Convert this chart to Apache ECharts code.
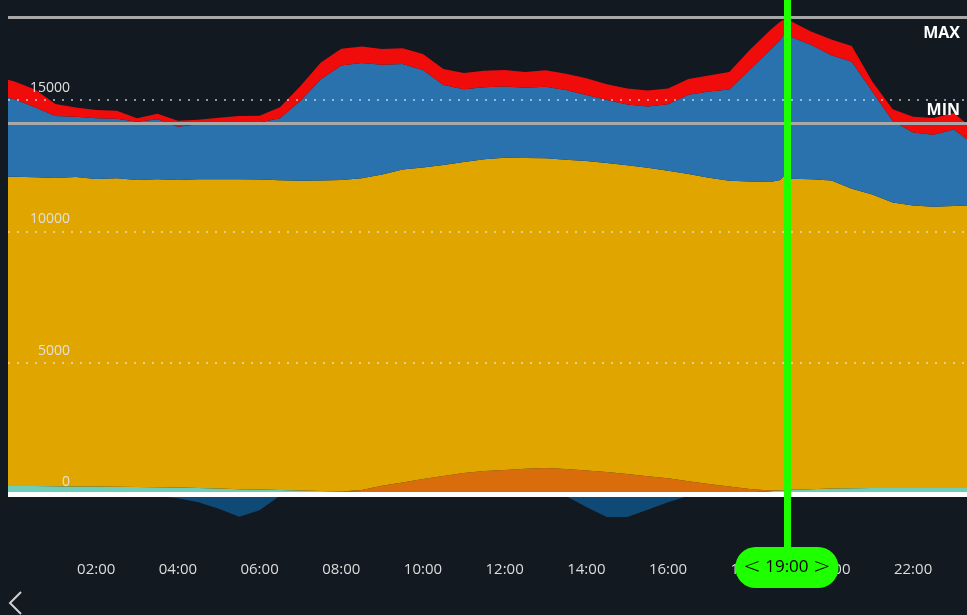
<!DOCTYPE html>
<html>
<head>
<meta charset="utf-8">
<script src="https://cdn.jsdelivr.net/npm/echarts@6/dist/echarts.min.js"></script>
<style>
html, body { margin: 0; padding: 0; background: #131920; }
#chart { width: 967px; height: 615px; }
</style>
</head>
<body>
<div id="chart"></div>
<script>
// time of day in hours
const hours = [-0.5, 0, 0.5, 1, 1.5, 2, 2.5, 3, 3.5, 4, 4.5, 5, 5.5, 6, 6.5, 7, 7.5, 8, 8.5, 9, 9.5, 10,
  10.5, 11, 11.5, 12, 12.5, 13, 13.5, 14, 14.5, 15, 15.5, 16, 16.5, 17, 17.5, 18, 18.5, 18.75, 18.85,
  19, 19.5, 20, 20.5, 21, 21.5, 22, 22.5, 23, 23.5]

const exportVals = [0, 0, 0, 0, 0, 0, 0, 0, -60, -150, -300, -550, -850, -600, -50, 0, 0, 0, 0, 0, 0, 0,
  0, 0, 0, 0, 0, 0, -60, -480, -860, -860, -580, -300, -50, 0, 0, 0, 0, 0, 0,
  0, 0, 0, 0, 0, 0, 0, 0, 0, 0]
const tealVals = [330, 320, 320, 310, 300, 300, 290, 280, 270, 260, 240, 220, 200, 190, 170, 150, 130, 110, 90, 70, 50, 50,
  50, 50, 50, 50, 50, 50, 50, 50, 50, 50, 50, 50, 50, 50, 60, 80, 120, 150, 160,
  180, 200, 220, 230, 240, 240, 240, 240, 240, 240]
const solarVals = [0, 0, 0, 0, 0, 0, 0, 0, 0, 0, 0, 0, 0, 0, 0, 0, 0, 0, 80, 260, 400, 540,
  650, 760, 840, 880, 930, 950, 920, 860, 800, 730, 640, 560, 450, 350, 240, 130, 30, 0, 0,
  0, 0, 0, 0, 0, 0, 0, 0, 0, 0]
const baseVals = [11750, 11760, 11740, 11720, 11770, 11690, 11730, 11680, 11715, 11700, 11740, 11760, 11780, 11785, 11780, 11780, 11810, 11850, 11850, 11830, 11900, 11840,
  11830, 11830, 11850, 11870, 11810, 11780, 11760, 11770, 11750, 11740, 11730, 11700, 11680, 11640, 11630, 11690, 11730, 11810, 11980,
  11820, 11780, 11720, 11390, 11160, 10860, 10750, 10700, 10730, 10760]
const gridVals = [3120, 2945, 2660, 2360, 2295, 2310, 2260, 2215, 2285, 2025, 2095, 2105, 2120, 2165, 2350, 3040, 3850, 4350, 4380, 4180, 4020, 3710,
  3040, 2770, 2740, 2710, 2670, 2720, 2650, 2510, 2400, 2310, 2330, 2530, 3020, 3280, 3470, 4250, 5020, 5320, 5420,
  5400, 5120, 4760, 4830, 3920, 3100, 2770, 2740, 2910, 2300]
const peakVals = [700, 680, 680, 460, 350, 320, 310, 130, 200, 225, 170, 240, 290, 260, 420, 560, 630, 640, 630, 600, 600, 610,
  610, 610, 630, 630, 600, 630, 620, 630, 600, 600, 610, 590, 600, 610, 660, 750, 750, 700, 510,
  600, 500, 600, 600, 380, 450, 600, 630, 620, 550]

const yTicks = [0, 5000, 10000, 15000]
const xTicks = [2, 4, 6, 8, 10, 12, 14, 16, 18, 20, 22]
const maxLimit = 18150
const minLimit = 14100
const cursorHour = 18.91
const cursorLabel = '19:00'

const pad = n => (n < 10 ? '0' : '') + n

// value first so the stack runs on y, x comes from encode
const makeSeries = (name, vals, color) => ({
  name: name,
  type: 'line',
  stack: 'total',
  symbol: 'none',
  silent: true,
  encode: { x: 1, y: 0 },
  lineStyle: { width: 0 },
  areaStyle: { color: color, opacity: 1 },
  data: hours.map((h, i) => [vals[i], h])
})

const chart = echarts.init(document.getElementById('chart'))

const limitLabel = {
  show: true,
  color: '#fff',
  fontWeight: 'bold',
  fontSize: 16,
  fontFamily: 'Open Sans'
}

const peakSeries = makeSeries('peak', peakVals, '#f10c0c')
peakSeries.markLine = {
  symbol: 'none',
  silent: true,
  z: 10,
  animation: false,
  data: [
    {
      yAxis: maxLimit,
      lineStyle: { color: '#a8a8a8', width: 3, type: 'solid' },
      label: Object.assign({ formatter: 'MAX', position: 'insideEndBottom', distance: [7, 8] }, limitLabel)
    },
    {
      yAxis: minLimit,
      lineStyle: { color: '#a8a8a8', width: 3, type: 'solid' },
      label: Object.assign({ formatter: 'MIN', position: 'insideEndTop', distance: [7, 5] }, limitLabel)
    },
    {
      yAxis: 0,
      lineStyle: { color: '#ffffff', width: 5, type: 'solid' },
      label: { show: false }
    },
    {
      xAxis: cursorHour,
      lineStyle: { color: '#1eff00', width: 7, type: 'solid' },
      label: {
        show: true,
        position: 'start',
        distance: 0,
        formatter: '{a|<} ' + cursorLabel + ' {a|>}',
        backgroundColor: '#1eff00',
        color: '#000',
        fontSize: 17,
        fontWeight: 500,
        fontFamily: 'Open Sans',
        padding: [10, 8],
        borderRadius: 21,
        rich: { a: { fontSize: 21, color: '#000', fontFamily: 'DejaVu Sans', fontWeight: 200 } }
      }
    }
  ]
}

chart.setOption({
  backgroundColor: '#131920',
  animation: false,
  grid: { left: 8, right: 0, top: 0, bottom: 68 },
  xAxis: {
    type: 'value',
    min: -0.16,
    max: 23.32,
    axisLine: { show: false },
    axisTick: { show: false },
    splitLine: { show: false },
    axisLabel: {
      customValues: xTicks,
      formatter: v => pad(v) + ':00',
      color: '#dcdcdc',
      fontSize: 15,
      fontFamily: 'Open Sans',
      margin: 15
    }
  },
  yAxis: {
    type: 'value',
    min: -2000,
    max: 18800,
    z: 10,
    axisLine: { show: false },
    axisTick: { show: false, customValues: yTicks },
    splitLine: { show: true, lineStyle: { color: 'rgba(225,232,240,0.8)', width: 1.5, type: [2, 7] } },
    axisLabel: {
      customValues: yTicks,
      formatter: v => String(v),
      inside: true,
      align: 'right',
      verticalAlign: 'bottom',
      margin: 62,
      padding: [0, 0, 5, 0],
      color: '#e0e0e0',
      fontSize: 14,
      fontFamily: 'Open Sans'
    }
  },
  graphic: [{
    type: 'polyline',
    shape: { points: [[21, 592], [10, 603], [21, 614]] },
    style: { stroke: '#d0d0d0', lineWidth: 2, fill: null }
  }],
  series: [
    makeSeries('export', exportVals, '#0f4a76'),
    makeSeries('other', tealVals, '#6fcdb9'),
    makeSeries('solar', solarVals, '#d96d0b'),
    makeSeries('base', baseVals, '#e1a500'),
    makeSeries('grid', gridVals, '#2a72ae'),
    peakSeries
  ]
})
</script>
</body>
</html>
